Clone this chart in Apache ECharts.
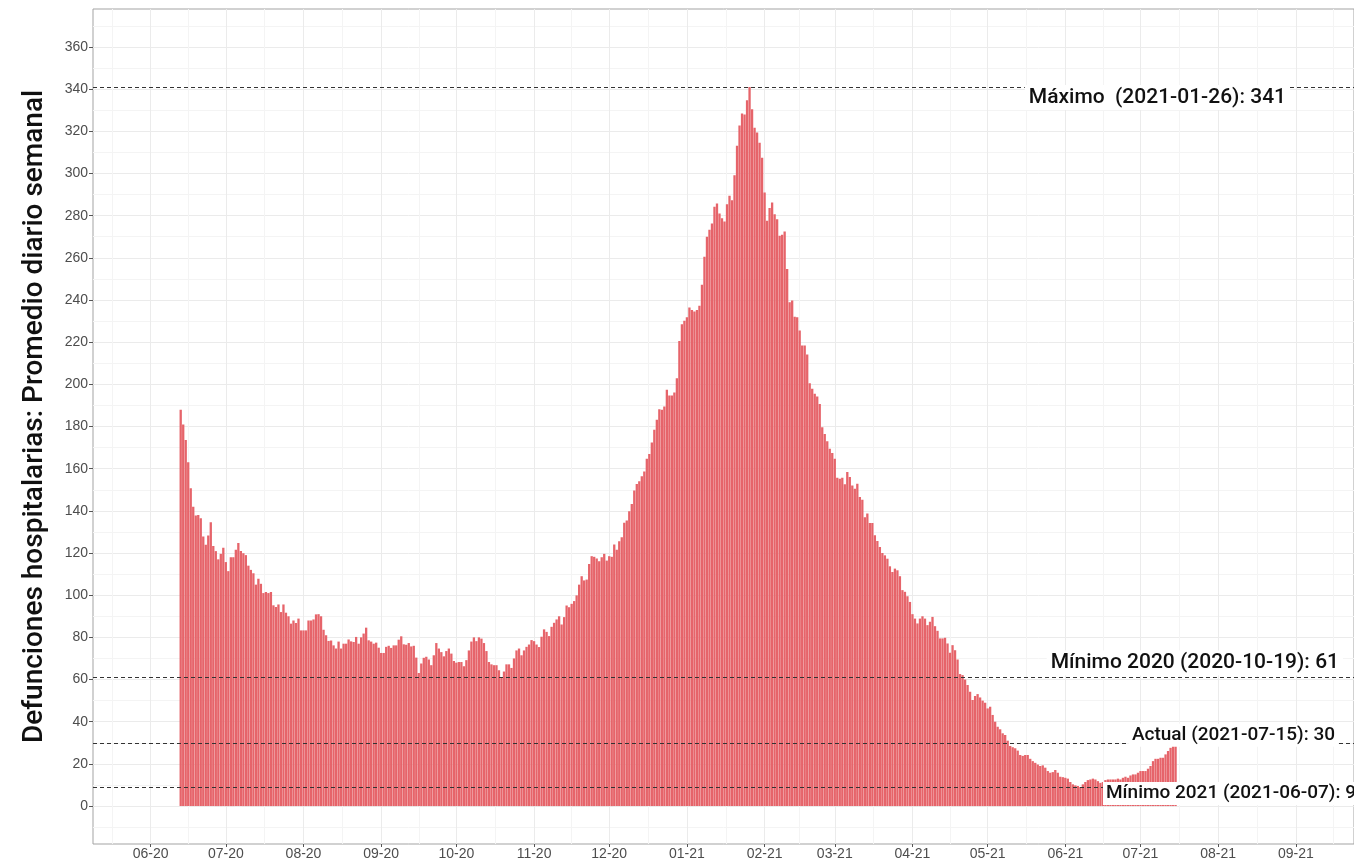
<!DOCTYPE html>
<html>
<head>
<meta charset="utf-8">
<title>Defunciones hospitalarias</title>
<script src="https://cdn.jsdelivr.net/npm/echarts@6/dist/echarts.min.js"></script>
<style>
  html, body { margin: 0; padding: 0; background: #fff; }
  #chart { width: 1354px; height: 861px; }
</style>
</head>
<body>
<div id="chart"></div>
<script>
// promedio diario semanal, un valor por dia a partir de firstDay
const firstDay = [2020, 6, 13];
const deaths = [
  188, 181, 173.6, 163, 150.7, 142, 137.8, 138, 136.5, 127.8,
  123.9, 128.3, 134.6, 123.3, 120.9, 117, 119.6, 122.5, 115.7, 111.4,
  118, 118, 121.5, 124.7, 121, 119.9, 119, 114, 112, 110.4,
  105, 107.8, 105.4, 101, 101.5, 101, 101.5, 95.2, 94.4, 95.6,
  92, 95.6, 91.7, 90, 86.5, 88, 86.8, 88.9, 83.3, 83.3,
  83.3, 88, 88, 88.5, 90.9, 91, 90, 83.6, 81, 78.3,
  78.5, 76.2, 74.7, 78, 74.7, 77, 77, 79, 78.1, 77.8,
  80.2, 77, 80, 81.8, 84.6, 78.6, 78, 77, 77.5, 75.1,
  72.6, 72.6, 75.5, 76, 75, 76.2, 76.2, 78.9, 80.5, 76.7,
  76.5, 77.3, 75.7, 76, 70.4, 63.1, 67.6, 70.3, 70.8, 69.5,
  66.8, 71.5, 77.3, 74.7, 73, 71, 73.5, 74.7, 72.3, 68.8,
  68, 68.3, 68.3, 66.3, 69.2, 73.8, 78, 80, 78.2, 80,
  79.4, 77.3, 73.5, 68.3, 67.2, 66.8, 66.8, 64.4, 61, 63.8,
  67.2, 67.2, 65.5, 70, 73.8, 74.7, 71.5, 73.8, 75.5, 76.6,
  78.7, 78.2, 76.6, 75.4, 80.3, 83.8, 82.6, 80.6, 85, 86.9,
  88.5, 90, 86.1, 89.6, 95.1, 94.3, 95.9, 97.2, 99.9, 105,
  109, 107, 107.4, 114.8, 118.5, 118.2, 117.4, 116.1, 118, 119.6,
  116.4, 118.5, 118.2, 124, 121.6, 125.6, 127.5, 134.3, 135.4, 139.8,
  143.3, 149.6, 152.7, 154, 156.4, 158.7, 164.7, 166.9, 172.4, 178.4,
  183.2, 188.2, 187.9, 189.5, 197.4, 194.7, 194.7, 196.1, 202.9, 220.6,
  228.5, 230.2, 231.8, 236.4, 235.3, 234.5, 235.3, 237.3, 247.2, 260.5,
  270, 273.3, 276.3, 284.2, 285.8, 281, 278.8, 277.2, 285.4, 289.4,
  287.3, 299.2, 313.1, 322.8, 328.4, 328, 334.7, 341, 330.4, 321.7,
  319.4, 314.6, 307.5, 291, 277.6, 283.6, 286.2, 280.7, 278.3, 270.5,
  270.9, 272.5, 254.7, 238.9, 239.7, 232.1, 231.8, 225.5, 218.4, 218.4,
  214.1, 200.5, 197.9, 195.5, 194.2, 190.7, 179.7, 176.5, 173, 169.4,
  167.4, 164.7, 155.7, 155.2, 155.7, 152.6, 158.4, 156, 152, 150.5,
  152.9, 146.6, 145.3, 137, 138.7, 134.2, 134.2, 128.4, 125.7, 122.9,
  120, 118.9, 117.3, 113.7, 111, 112.6, 111.8, 109, 102.4, 101.6,
  99.5, 96.8, 91, 88.9, 86.6, 88.9, 90, 88.9, 85.8, 87.4,
  89.7, 85.3, 83.1, 79.5, 79.5, 79.8, 77.1, 72.7, 76.3, 73.9,
  69.5, 62.6, 62.1, 60, 57.4, 54.2, 50.3, 52.2, 53.1, 51.5,
  50, 49, 46.3, 47.1, 43.2, 40, 37.6, 36.4, 34.5, 33.7,
  31, 28.5, 27.9, 27.4, 26.3, 24.2, 23.8, 24.2, 24.2, 22.4,
  21.3, 20.5, 19.7, 19, 19.3, 18.2, 16.6, 15.8, 16.1, 17.1,
  15.8, 13.9, 13.7, 13.4, 13, 11.4, 10.3, 9.8, 9.5, 9,
  10.3, 11.4, 12.3, 12.6, 13, 12.6, 11.8, 11, 11.4, 12.3,
  12.6, 12.6, 12.6, 12.6, 13, 12.6, 13.4, 13.9, 13.4, 14.5,
  15, 15, 15.8, 16.6, 16.6, 16.6, 17.7, 19, 21.3, 22.4,
  22.4, 22.9, 22.9, 24.5, 26.1, 27.6, 28.7, 30
];
const monthLabels = ['06-20', '07-20', '08-20', '09-20', '10-20', '11-20', '12-20',
  '01-21', '02-21', '03-21', '04-21', '05-21', '06-21', '07-21', '08-21', '09-21'];
const yTicks = [0, 20, 40, 60, 80, 100, 120, 140, 160, 180, 200, 220, 240, 260, 280, 300, 320, 340, 360];
const yMinor = [-10, 10, 30, 50, 70, 90, 110, 130, 150, 170, 190, 210, 230, 250, 270, 290, 310, 330, 350, 370];
const refValues = [341, 61, 30, 9];
const refTexts = ['Máximo  (2021-01-26): 341', 'Mínimo 2020 (2020-10-19): 61',
  'Actual (2021-07-15): 30', 'Mínimo 2021 (2021-06-07): 9'];

// dias contados desde el 2020-06-01
const DAY = 86400000;
const origin = Date.UTC(2020, 5, 1);
function dayOf(y, m, d) { return (Date.UTC(y, m - 1, d) - origin) / DAY; }

const firstIdx = dayOf(firstDay[0], firstDay[1], firstDay[2]);
const barData = deaths.map((v, i) => [firstIdx + i, v]);
const monthDays = monthLabels.map(s => {
  const [m, y] = s.split('-');
  return dayOf(2000 + Number(y), Number(m), 1);
});
const bounds = [dayOf(2020, 5, 1)].concat(monthDays, [dayOf(2021, 10, 1)]);
const minorDays = [];
for (let i = 1; i < bounds.length; i++) minorDays.push((bounds[i - 1] + bounds[i]) / 2);

const xMin = -23, xMax = 480.2;
const yMin = -18, yMax = 378;

// estilo de cada etiqueta de referencia
const refLabelStyle = [
  { position: 'insideEndBottom', distance: [64, -2], fontSize: 21, padding: [2, 4] },
  { position: 'insideEndTop', distance: [11, 2], fontSize: 21, padding: [2, 4] },
  { position: 'insideEndTop', distance: [16, -4], fontSize: 19, padding: [2, 3] },
  { position: 'insideEndBottom', distance: [-5, -5], fontSize: 19, padding: [2, 3] }
];

const option = {
  animation: false,
  grid: {
    left: 93, right: -2, top: 9, bottom: 17,
    show: true, borderColor: '#a3a3a3', borderWidth: 1
  },
  xAxis: [{
    type: 'value', min: xMin, max: xMax,
    axisLine: { show: false, onZero: false },
    axisTick: { show: true, customValues: monthDays, length: 3, lineStyle: { color: '#555' } },
    axisLabel: {
      customValues: monthDays, margin: 3, fontSize: 14, color: '#4d4d4d', fontFamily: 'Liberation Sans',
      formatter: v => monthLabels[monthDays.indexOf(v)] || ''
    },
    splitLine: { show: true, lineStyle: { color: '#ebebeb', width: 1 } }
  }, {
    type: 'value', min: xMin, max: xMax, position: 'bottom',
    axisLine: { show: false, onZero: false },
    axisTick: { show: false, customValues: minorDays },
    axisLabel: { show: false },
    splitLine: { show: true, lineStyle: { color: '#f4f4f4', width: 1 } }
  }],
  yAxis: [{
    type: 'value', min: yMin, max: yMax,
    name: 'Defunciones hospitalarias: Promedio diario semanal',
    nameLocation: 'middle', nameGap: 44,
    nameTextStyle: { fontSize: 28, fontFamily: 'Roboto', fontWeight: 500, color: '#111', padding: [0, 0, 0, 20] },
    axisLine: { show: false, onZero: false },
    axisTick: { show: true, customValues: yTicks, length: 4, lineStyle: { color: '#555' } },
    axisLabel: { customValues: yTicks, margin: 5, fontSize: 14, color: '#4d4d4d', fontFamily: 'Liberation Sans' },
    splitLine: { show: true, lineStyle: { color: '#ebebeb', width: 1 } }
  }, {
    type: 'value', min: yMin, max: yMax, position: 'left',
    axisLine: { show: false, onZero: false },
    axisTick: { show: false, customValues: yMinor },
    axisLabel: { show: false },
    splitLine: { show: true, lineStyle: { color: '#f4f4f4', width: 1 } }
  }],
  series: [{
    type: 'bar',
    data: barData,
    barWidth: '92%',
    silent: true,
    itemStyle: { color: '#e6646a' },
    markLine: {
      silent: true,
      symbol: 'none',
      lineStyle: { color: '#333', type: [4, 3], width: 1 },
      data: refValues.map((v, i) => ({
        yAxis: v,
        label: Object.assign({
          show: true, formatter: refTexts[i],
          fontFamily: 'Roboto', fontWeight: 500, color: '#111',
          backgroundColor: '#fff'
        }, refLabelStyle[i])
      }))
    }
  }]
};

const chart = echarts.init(document.getElementById('chart'));
chart.setOption(option);
</script>
</body>
</html>
